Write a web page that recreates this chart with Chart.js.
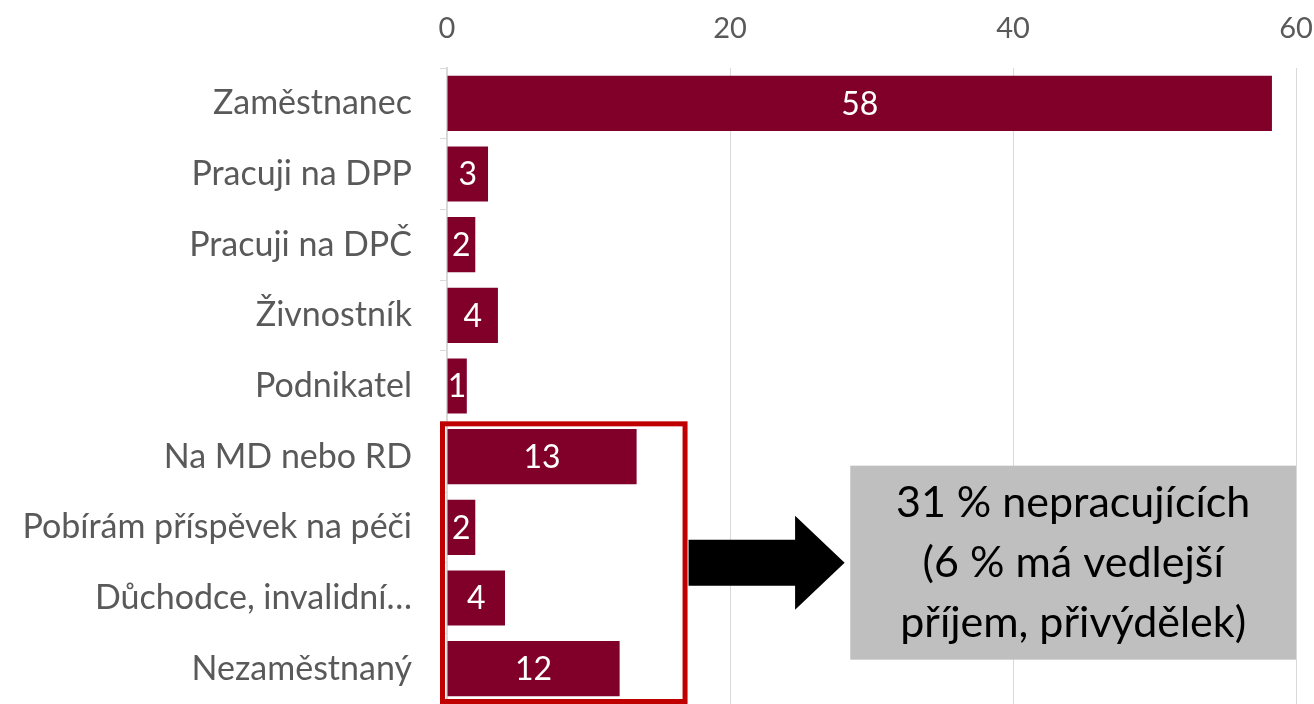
<!DOCTYPE html>
<html>
<head>
<meta charset="utf-8">
<script src="https://cdn.jsdelivr.net/npm/chart.js@4.4.0/dist/chart.umd.min.js"></script>
<style>
  html, body { margin: 0; padding: 0; background: #fff; overflow: hidden; }
  #wrap { width: 1314px; height: 704px; }
</style>
</head>
<body>
<div id="wrap"><canvas id="status-chart"></canvas></div>
<script>
// Chart data
const categories = ['Zaměstnanec', 'Pracuji na DPP', 'Pracuji na DPČ', 'Živnostník', 'Podnikatel',
  'Na MD nebo RD', 'Pobírám příspěvek na péči', 'Důchodce, invalidní…', 'Nezaměstnaný'];
const values = [58.3, 2.9, 2.0, 3.6, 1.4, 13.4, 2.0, 4.1, 12.2];
const tickValues = [0, 20, 40, 60];
const noteLines = ['31 % nepracujících', '(6 % má vedlejší', 'příjem, přivýdělek)'];

const FONT = 'Lato, "Open Sans", sans-serif';

// Draw value labels in the middle of each bar
const barLabels = {
  id: 'barLabels',
  afterDatasetsDraw(chart) {
    const ctx = chart.ctx;
    const meta = chart.getDatasetMeta(0);
    ctx.save();
    ctx.fillStyle = '#fff';
    ctx.font = '32px ' + FONT;
    ctx.textAlign = 'center';
    ctx.textBaseline = 'middle';
    meta.data.forEach((bar, i) => {
      const x = (bar.base + bar.x) / 2;
      ctx.fillText(Math.round(values[i]), x, bar.y + 1);
    });
    ctx.restore();
  }
};

// Red frame, arrow and grey note box
const notes = {
  id: 'notes',
  afterDraw(chart) {
    const ctx = chart.ctx;
    const xs = chart.scales.x, ys = chart.scales.y;
    const area = chart.chartArea;
    ctx.save();

    // red frame round the not-working group
    const top = (ys.getPixelForValue(4) + ys.getPixelForValue(5)) / 2;
    const left = xs.getPixelForValue(0) - 7;
    const right = xs.getPixelForValue(17);
    ctx.strokeStyle = '#c00000';
    ctx.lineWidth = 5;
    ctx.strokeRect(left + 2.5, top + 2.5, right - left - 5, area.bottom - top - 5);

    // arrow
    const cy = (ys.getPixelForValue(6) + ys.getPixelForValue(7)) / 2;
    const ax0 = right + 1, ahead = xs.getPixelForValue(24.6), atip = xs.getPixelForValue(28.1);
    ctx.fillStyle = '#000';
    ctx.beginPath();
    ctx.moveTo(ax0, cy - 23);
    ctx.lineTo(ahead, cy - 23);
    ctx.lineTo(ahead, cy - 47);
    ctx.lineTo(atip, cy);
    ctx.lineTo(ahead, cy + 47);
    ctx.lineTo(ahead, cy + 23);
    ctx.lineTo(ax0, cy + 23);
    ctx.closePath();
    ctx.fill();

    // grey box with text
    const bx0 = xs.getPixelForValue(28.5), bx1 = xs.getPixelForValue(60);
    const by0 = cy - 97, by1 = cy + 97;
    ctx.fillStyle = '#bfbfbf';
    ctx.fillRect(bx0, by0, bx1 - bx0, by1 - by0);
    ctx.fillStyle = '#000';
    ctx.font = '43px ' + FONT;
    ctx.textAlign = 'center';
    ctx.textBaseline = 'middle';
    const lh = 60;
    noteLines.forEach((t, i) => {
      ctx.fillText(t, (bx0 + bx1) / 2, cy + (i - 1) * lh);
    });
    ctx.restore();
  }
};

function initChart() {
  const ctx = document.getElementById('status-chart').getContext('2d');
  new Chart(ctx, {
    type: 'bar',
    data: {
      labels: categories,
      datasets: [{
        data: values,
        backgroundColor: '#80002a',
        borderWidth: 0,
        categoryPercentage: 1,
        barPercentage: 0.78
      }]
    },
    options: {
      indexAxis: 'y',
      responsive: true,
      maintainAspectRatio: false,
      animation: false,
      layout: { padding: { right: 18, left: 0, top: 0, bottom: 0 } },
      plugins: {
        legend: { display: false },
        tooltip: { enabled: false }
      },
      scales: {
        x: {
          position: 'top',
          min: 0,
          max: 60,
          afterBuildTicks(axis) {
            axis.ticks = tickValues.map(v => ({ value: v }));
          },
          afterFit(axis) {
            axis.height = 68;
            axis.paddingLeft = 0;
            axis.paddingRight = 0;
          },
          grid: { color: '#d9d9d9', lineWidth: 1, drawTicks: false },
          border: { display: false },
          ticks: {
            color: '#595959',
            font: { family: FONT, size: 29 },
            padding: 22
          }
        },
        y: {
          afterFit(axis) {
            axis.width = 447;
            axis.paddingTop = 0;
            axis.paddingBottom = 0;
          },
          grid: {
            offset: true,
            drawOnChartArea: false,
            drawTicks: true,
            tickLength: 7,
            color: '#d9d9d9'
          },
          border: { display: true, color: '#d9d9d9', width: 2 },
          ticks: {
            color: '#595959',
            font: { family: FONT, size: 34 },
            padding: 28
          }
        }
      }
    },
    plugins: [barLabels, notes]
  });
}

window.onload = initChart;
</script>
</body>
</html>
